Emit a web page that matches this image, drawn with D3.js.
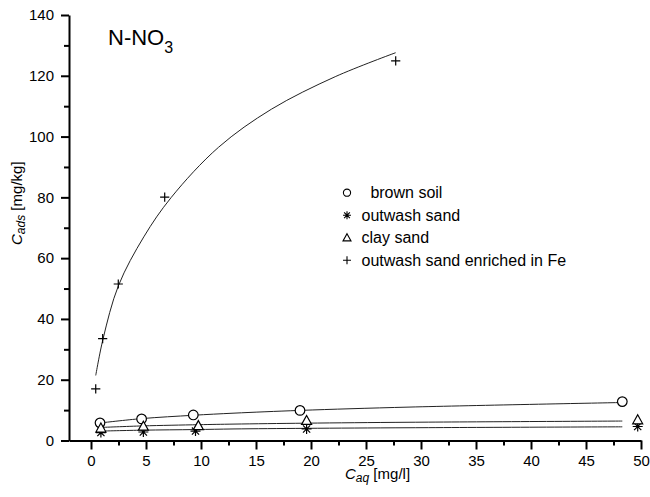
<!DOCTYPE html>
<html>
<head>
<meta charset="utf-8">
<script src="https://cdn.jsdelivr.net/npm/d3@7"></script>
<style>
  body { margin: 0; background: #fff; }
  svg { display: block; font-family: "Liberation Sans", Arial, sans-serif; }
</style>
</head>
<body>
<div id="chart"></div>
<script>
// series: [Caq, Cads]
const brownSoil = [[0.82, 5.8], [4.6, 7.1], [9.3, 8.4], [19.0, 9.9], [48.3, 12.8]]
const outwashSand = [[0.9, 2.6], [4.76, 2.8], [9.5, 3.1], [19.6, 3.8], [49.7, 4.6]]
const claySand = [[0.9, 4.1], [4.76, 4.7], [9.76, 4.9], [19.6, 6.6], [49.7, 6.8]]
const enrichedFe = [[0.43, 17.0], [1.06, 33.5], [2.48, 51.5], [6.7, 80.1], [27.7, 124.9]]

// fitted isotherm lines
const brownSoilFit = [[0.9, 5.8], [4.6, 7.2], [9.3, 8.3], [13, 9.0], [19, 9.9], [29, 11.0], [48.3, 12.5]]
const claySandFit = [[0.9, 4.3], [4.7, 4.8], [9.8, 5.2], [13, 5.4], [19.5, 5.7], [29, 6.0], [48.3, 6.4]]
const outwashSandFit = [[0.9, 3.1], [4.7, 3.4], [9.5, 3.6], [13, 3.8], [19.5, 4.0], [29, 4.2], [48.3, 4.5]]
const enrichedFeFit = [[0.43, 21.4], [1.1, 33.5], [2.5, 51], [4.8, 67], [7.3, 80], [11.6, 96.5], [16.4, 109], [22.2, 119.7], [27.7, 127.6]]

const xMajorTicks = [0, 5, 10, 15, 20, 25, 30, 35, 40, 45, 50]
const xMinorTicks = [2.5, 7.5, 12.5, 17.5, 22.5, 27.5, 32.5, 37.5, 42.5, 47.5]
const yMajorTicks = [0, 20, 40, 60, 80, 100, 120, 140]
const yMinorTicks = [10, 30, 50, 70, 90, 110, 130]

const legendLabels = ["  brown soil", "outwash sand", "clay sand", "outwash sand enriched in Fe"]

const series = [
  {name: legendLabels[0], symbol: "circle", points: brownSoil, fit: brownSoilFit},
  {name: legendLabels[1], symbol: "asterisk", points: outwashSand, fit: outwashSandFit},
  {name: legendLabels[2], symbol: "triangle", points: claySand, fit: claySandFit},
  {name: legendLabels[3], symbol: "plus", points: enrichedFe, fit: enrichedFeFit}
]

const width = 650
const height = 497

const x = d3.scaleLinear().domain([-2, 50]).range([69, 641])
const y = d3.scaleLinear().domain([0, 140]).range([440.5, 15])

const svg = d3.select("#chart").append("svg")
  .attr("width", width)
  .attr("height", height)

function markerPath (type, s) {
  const p = d3.path()
  if (type === "circle") {
    p.moveTo(s, 0)
    p.arc(0, 0, s, 0, Math.PI * 2)
  } else if (type === "triangle") {
    p.moveTo(0, -s)
    p.lineTo(s, s * 0.8)
    p.lineTo(-s, s * 0.8)
    p.closePath()
  } else if (type === "plus") {
    p.moveTo(0, -s); p.lineTo(0, s)
    p.moveTo(-s, 0); p.lineTo(s, 0)
  } else {
    const a = s * 0.72
    p.moveTo(0, -s); p.lineTo(0, s)
    p.moveTo(-s, 0); p.lineTo(s, 0)
    p.moveTo(-a, -a); p.lineTo(a, a)
    p.moveTo(-a, a); p.lineTo(a, -a)
  }
  return p.toString()
}

// axes
svg.append("g")
  .attr("transform", `translate(0,${y(0)})`)
  .call(d3.axisBottom(x).tickValues(xMajorTicks).tickSize(9).tickSizeOuter(0).tickPadding(6))
svg.append("g")
  .attr("transform", `translate(0,${y(0)})`)
  .call(d3.axisBottom(x).tickValues(xMinorTicks).tickSize(5).tickFormat("").tickSizeOuter(0))
  .select(".domain").remove()

svg.append("g")
  .attr("transform", `translate(${x(-2)},0)`)
  .call(d3.axisLeft(y).tickValues(yMajorTicks).tickSize(8).tickSizeOuter(0).tickPadding(7))
svg.append("g")
  .attr("transform", `translate(${x(-2)},0)`)
  .call(d3.axisLeft(y).tickValues(yMinorTicks).tickSize(5).tickFormat("").tickSizeOuter(0))
  .select(".domain").remove()

svg.selectAll(".domain").attr("stroke", "#000").attr("stroke-width", 2)
svg.selectAll(".tick line").attr("stroke", "#000").attr("stroke-width", 2)
svg.selectAll(".tick text")
  .attr("fill", "#000")
  .style("font-size", "15px")
  .style("font-family", "'Liberation Sans', Arial, sans-serif")

// fitted lines
const line = d3.line()
  .x(d => x(d[0]))
  .y(d => y(d[1]))
  .curve(d3.curveCatmullRom.alpha(0.5))

svg.append("g").selectAll("path")
  .data(series)
  .join("path")
  .attr("d", d => line(d.fit))
  .attr("fill", "none")
  .attr("stroke", "#222")
  .attr("stroke-width", 1)

// data points
series.forEach(s => {
  svg.append("g").selectAll("path")
    .data(s.points)
    .join("path")
    .attr("transform", d => `translate(${x(d[0])},${y(d[1])})`)
    .attr("d", markerPath(s.symbol, s.symbol === "circle" ? 4.8 : s.symbol === "plus" ? 4.6 : 5))
    .attr("fill", s.symbol === "circle" || s.symbol === "triangle" ? "#fff" : "none")
    .attr("stroke", "#000")
    .attr("stroke-width", 1.2)
})

// legend
const legendRows = svg.append("g").selectAll("g")
  .data(series)
  .join("g")
  .attr("transform", (d, i) => `translate(347,${192.7 + i * 22.5})`)

legendRows.append("path")
  .attr("d", d => markerPath(d.symbol, d.symbol === "circle" ? 3.6 : 4))
  .attr("fill", "none")
  .attr("stroke", "#000")
  .attr("stroke-width", 1.1)

legendRows.append("text")
  .attr("x", 14.5)
  .attr("y", 5.7)
  .style("white-space", "pre")
  .style("font-size", "16px")
  .text(d => d.name)

// title
const title = svg.append("text")
  .attr("x", 108)
  .attr("y", 45)
  .style("font-size", "22px")
title.append("tspan").text("N-NO")
title.append("tspan").attr("dy", 8).style("font-size", "16px").text("3")

// axis labels
const xLabel = svg.append("text")
  .attr("x", 345)
  .attr("y", 479)
  .style("font-size", "15px")
xLabel.append("tspan").style("font-style", "italic").text("C")
xLabel.append("tspan").attr("dy", 3).style("font-style", "italic").style("font-size", "12px").text("aq")
xLabel.append("tspan").attr("dy", -3).text(" [mg/l]")

const yLabel = svg.append("text")
  .attr("transform", "translate(22,245) rotate(-90)")
  .style("font-size", "15px")
yLabel.append("tspan").style("font-style", "italic").text("C")
yLabel.append("tspan").attr("dy", 3).style("font-style", "italic").style("font-size", "12px").text("ads")
yLabel.append("tspan").attr("dy", -3).text(" [mg/kg]")
</script>
</body>
</html>
